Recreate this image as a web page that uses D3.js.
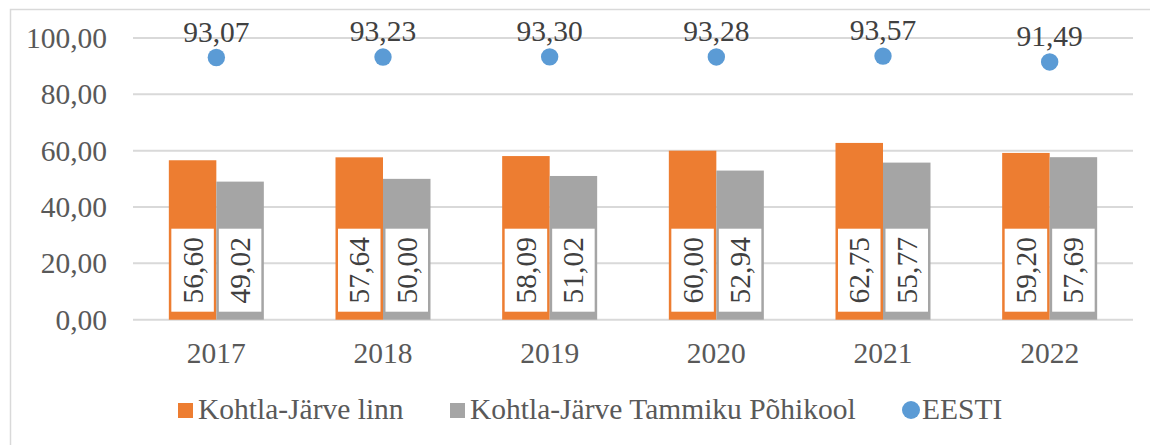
<!DOCTYPE html>
<html>
<head>
<meta charset="utf-8">
<script src="https://cdn.jsdelivr.net/npm/d3@7"></script>
<style>
  body { margin: 0; background: #fff; }
</style>
</head>
<body>
<svg id="fig" width="1150" height="445"></svg>
<script>
const years = ["2017", "2018", "2019", "2020", "2021", "2022"];
const linn = [56.60, 57.64, 58.09, 60.00, 62.75, 59.20];
const kool = [49.02, 50.00, 51.02, 52.94, 55.77, 57.69];
const eesti = [93.07, 93.23, 93.30, 93.28, 93.57, 91.49];
const yTicks = [0, 20, 40, 60, 80, 100];
const seriesNames = ["Kohtla-Järve linn", "Kohtla-Järve Tammiku Põhikool", "EESTI"];

const colors = { linn: "#ED7D31", kool: "#A5A5A5", eesti: "#5B9BD5" };
const fmt = v => d3.format(".2f")(v).replace(".", ",");
const FONT = "'Liberation Serif', 'Times New Roman', Times, serif";
const FS = 29.5;

const svg = d3.select("#fig")
  .attr("font-family", FONT)
  .style("font-family", FONT);
const margin = { left: 133, right: 17, top: 38, bottom: 126 };
const W = +svg.attr("width"), H = +svg.attr("height");

// chart frame (only top and left visible)
svg.append("path")
   .attr("d", `M10.5,445 V9.5 H1150`)
   .attr("fill", "none").attr("stroke", "#d9d9d9").attr("stroke-width", 1.5);

const x = d3.scaleBand().domain(years).range([margin.left, W - margin.right]);
const y = d3.scaleLinear().domain([0, 100]).range([H - margin.bottom + 0.7, margin.top]);
const barW = 47.5;

// gridlines + y labels
const yg = svg.append("g");
yg.selectAll("line").data(yTicks).join("line")
  .attr("x1", margin.left).attr("x2", W - margin.right)
  .attr("y1", d => y(d)).attr("y2", d => y(d))
  .attr("stroke", "#d9d9d9").attr("stroke-width", 2);
yg.selectAll("text").data(yTicks).join("text")
  .attr("x", 107).attr("y", d => y(d) + 10)
  .attr("text-anchor", "end").attr("font-size", FS).attr("fill", "#595959")
  .text(d => fmt(d));

// bars
const groups = [
  { key: "linn", vals: linn, off: -barW },
  { key: "kool", vals: kool, off: 0 }
];
groups.forEach(g => {
  const bg = svg.append("g");
  const cx = i => x(years[i]) + x.bandwidth() / 2 + g.off;
  bg.selectAll("rect.bar").data(g.vals).join("rect")
    .attr("class", "bar")
    .attr("x", (d, i) => cx(i)).attr("width", barW)
    .attr("y", d => y(d)).attr("height", d => y(0) - y(d))
    .attr("fill", colors[g.key]);
  bg.selectAll("rect.box").data(g.vals).join("rect")
    .attr("class", "box")
    .attr("x", (d, i) => cx(i) + 2.5).attr("width", barW - 5)
    .attr("y", y(0) - 91).attr("height", 83)
    .attr("fill", "#fff");
  bg.selectAll("text").data(g.vals).join("text")
    .attr("transform", (d, i) => `translate(${cx(i) + barW / 2 + 10},${y(0) - 49.5}) rotate(-90)`)
    .attr("text-anchor", "middle").attr("font-size", FS)
    .attr("fill", "#404040")
    .text(d => fmt(d));
});

// EESTI dots
const dg = svg.append("g");
dg.selectAll("circle").data(eesti).join("circle")
  .attr("cx", (d, i) => x(years[i]) + x.bandwidth() / 2)
  .attr("cy", d => y(d)).attr("r", 8.7)
  .attr("fill", colors.eesti);
dg.selectAll("text").data(eesti).join("text")
  .attr("x", (d, i) => x(years[i]) + x.bandwidth() / 2)
  .attr("y", d => y(d) - 16)
  .attr("text-anchor", "middle").attr("font-size", FS)
  .attr("fill", "#404040")
  .text(d => fmt(d));

// x axis labels
svg.append("g").selectAll("text").data(years).join("text")
  .attr("x", d => x(d) + x.bandwidth() / 2).attr("y", 363)
  .attr("text-anchor", "middle").attr("font-size", FS).attr("fill", "#595959")
  .text(d => d);

// legend
const legend = [
  { name: seriesNames[0], c: colors.linn, sym: "rect", x: 178 },
  { name: seriesNames[1], c: colors.kool, sym: "rect", x: 450 },
  { name: seriesNames[2], c: colors.eesti, sym: "circle", x: 902 }
];
const lg = svg.append("g");
legend.forEach(l => {
  if (l.sym === "rect") {
    lg.append("rect").attr("x", l.x).attr("y", 403).attr("width", 15).attr("height", 15).attr("fill", l.c);
  } else {
    lg.append("circle").attr("cx", l.x + 9).attr("cy", 410).attr("r", 9).attr("fill", l.c);
  }
  lg.append("text").attr("x", l.x + 20).attr("y", 419).attr("font-size", FS).attr("fill", "#595959").text(l.name);
});
</script>
</body>
</html>
